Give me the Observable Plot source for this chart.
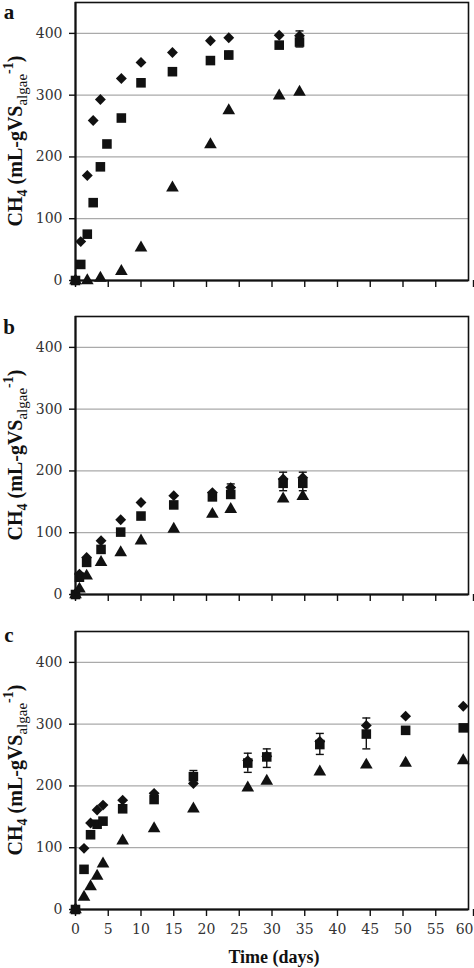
<!DOCTYPE html>
<html>
<head>
<meta charset="utf-8">
<script src="https://cdn.jsdelivr.net/npm/d3@7"></script>
<script src="https://cdn.jsdelivr.net/npm/@observablehq/plot@0.6"></script>
<style>
  body { margin: 0; background: #fff; }
  #chart svg { display: block; overflow: hidden; }
</style>
</head>
<body>
<div id="chart"></div>
<script>
// panel a
const daysA = [0, 0.8, 1.8, 2.7, 3.8, 4.8, 7, 10, 14.8, 20.6, 23.4, 31.1, 34.2]
const diamondA = [0, 63, 170, 259, 293, null, 327, 353, 369, 388, 393, 397, 396]
const squareA = [0, 26, 75, 126, 184, 221, 263, 320, 338, 356, 365, 381, 386]
const triangleA = [0, null, 0, null, 4, null, 15, 53, 150, 220, 275, 299, 305]
const errDaysA = [23.4, 34.2]
const errLowA = [359, 378]
const errHighA = [371, 404]

// panel b
const daysB = [0, 0.6, 1.7, 3.9, 6.9, 10, 15, 20.9, 23.7, 31.7, 34.7]
const diamondB = [0, 33, 60, 87, 121, 149, 160, 165, 173, 187, 189]
const squareB = [0, 28, 52, 73, 101, 127, 145, 158, 162, 180, 180]
const triangleB = [0, 9, 30, 52, 68, 87, 106, 130, 138, 155, 159]
const errDaysB = [23.7, 31.7, 34.7]
const errLowB = [160, 168, 168]
const errHighB = [179, 198, 198]

// panel c
const daysC = [0, 1.3, 2.3, 3.3, 4.2, 7.2, 12, 18, 26.3, 29.2, 37.3, 44.4, 50.4, 59.2]
const diamondC = [0, 99, 140, 161, 169, 177, 188, 204, 241, 248, 272, 298, 313, 329]
const squareC = [0, 65, 121, 138, 143, 163, 178, 215, 237, 247, 267, 284, 290, 294]
const triangleC = [0, 20, 37, 54, 74, 111, 131, 163, 197, 208, 223, 234, 237, 241]
const errDaysC = [18, 26.3, 29.2, 37.3, 44.4]
const errLowC = [205, 222, 230, 251, 260]
const errHighC = [225, 253, 260, 285, 310]

const xTicks = [0, 5, 10, 15, 20, 25, 30, 35, 40, 45, 50, 55]
const xLastTick = [60]
const yTicks = [0, 100, 200, 300, 400]
const gridLines = [100, 200, 300, 400]

const ink = '#111'

// short horizontal cap for the error bars
const cap = {
  draw(context) {
    context.moveTo(-4, 0)
    context.lineTo(4, 0)
  }
}

function series(days, values) {
  return days.map((d, i) => ({day: d, v: values[i]})).filter(d => d.v != null)
}

function errors(days, lo, hi) {
  return days.map((d, i) => ({day: d, lo: lo[i], hi: hi[i]}))
}

function panel(p) {
  const err = errors(p.errDays, p.errLow, p.errHigh)
  const xfmt = p.xLabels ? d => d : () => ''
  const chart = Plot.plot({
    width: 474,
    height: p.height,
    marginTop: p.top,
    marginBottom: p.bottom,
    marginLeft: 75,
    marginRight: 6,
    style: {fontFamily: 'DejaVu Serif', fontSize: '14px', color: '#333', background: '#fff'},
    x: {domain: [0, 60], axis: null},
    y: {domain: [0, 450], axis: null},
    marks: [
      Plot.ruleY(gridLines, {stroke: '#aaa', strokeWidth: 1.3}),
      Plot.axisY(yTicks, {tickSize: 6, tickPadding: 7, label: null, stroke: ink, strokeWidth: 1.4}),
      Plot.axisX(xTicks, {tickSize: 7, tickPadding: 8, label: null, stroke: ink, strokeWidth: 1.4, tickFormat: xfmt}),
      // last label nudged so it stays inside the window
      Plot.axisX(xLastTick, {tickSize: 7, tickPadding: 8, label: null, stroke: ink, strokeWidth: 1.4, tickFormat: xfmt, textAnchor: 'end', dx: 5}),
      Plot.ruleX(err, {x: 'day', y1: 'lo', y2: 'hi', stroke: ink, strokeWidth: 1.4}),
      Plot.dot(err, {x: 'day', y: 'lo', symbol: cap, fill: 'none', stroke: ink, strokeWidth: 1.4}),
      Plot.dot(err, {x: 'day', y: 'hi', symbol: cap, fill: 'none', stroke: ink, strokeWidth: 1.4}),
      Plot.dot(series(p.days, p.square), {x: 'day', y: 'v', symbol: 'square', r: 5.4, fill: ink}),
      Plot.dot(series(p.days, p.diamond), {x: 'day', y: 'v', symbol: 'diamond2', r: 4.9, fill: ink}),
      Plot.dot(series(p.days, p.triangle), {x: 'day', y: 'v', symbol: 'triangle', r: 4.7, fill: ink}),
      Plot.frame({stroke: ink, strokeWidth: 1.6}),
      Plot.ruleX([0], {stroke: ink, strokeWidth: 2}),
      Plot.ruleY([0], {stroke: ink, strokeWidth: 2})
    ]
  })

  const svg = d3.select(chart)
  const cy = (p.top + p.height - p.bottom) / 2

  // panel letter
  svg.append('text')
    .attr('x', 9).attr('y', p.letterY)
    .style('font-family', 'Liberation Serif').style('font-weight', 'bold').style('font-size', '21px')
    .attr('fill', ink)
    .text(p.letter)

  // y title with sub/superscripts
  const yl = svg.append('text')
    .attr('transform', `translate(22,${cy}) rotate(-90)`)
    .attr('text-anchor', 'middle')
    .attr('fill', ink)
    .style('font-family', 'Liberation Serif').style('font-weight', 'bold').style('font-size', '20px')
  yl.append('tspan').text('CH')
  yl.append('tspan').attr('dy', 5).style('font-size', '14px').text('4')
  yl.append('tspan').attr('dy', -5).text(' (mL-gVS')
  yl.append('tspan').attr('dy', 5).style('font-size', '15px').style('font-weight', 'normal').text('algae')
  yl.append('tspan').attr('dy', -14).style('font-size', '14px').text('-1')
  yl.append('tspan').attr('dy', 9).text(')')

  if (p.xLabels) {
    svg.append('text')
      .attr('x', 274).attr('y', p.height - 5)
      .attr('text-anchor', 'middle')
      .attr('fill', ink)
      .style('font-family', 'Liberation Serif').style('font-weight', 'bold').style('font-size', '18px')
      .text('Time (days)')
  }
  d3.select('#chart').append(() => chart)
}

panel({letter: 'a', letterY: 19, height: 300, top: 2, bottom: 20, xLabels: false,
  days: daysA, diamond: diamondA, square: squareA, triangle: triangleA,
  errDays: errDaysA, errLow: errLowA, errHigh: errHighA})
panel({letter: 'b', letterY: 34, height: 314, top: 16, bottom: 20, xLabels: false,
  days: daysB, diamond: diamondB, square: squareB, triangle: triangleB,
  errDays: errDaysB, errLow: errLowB, errHigh: errHighB})
panel({letter: 'c', letterY: 28, height: 354, top: 17, bottom: 59, xLabels: true,
  days: daysC, diamond: diamondC, square: squareC, triangle: triangleC,
  errDays: errDaysC, errLow: errLowC, errHigh: errHighC})
</script>
</body>
</html>
